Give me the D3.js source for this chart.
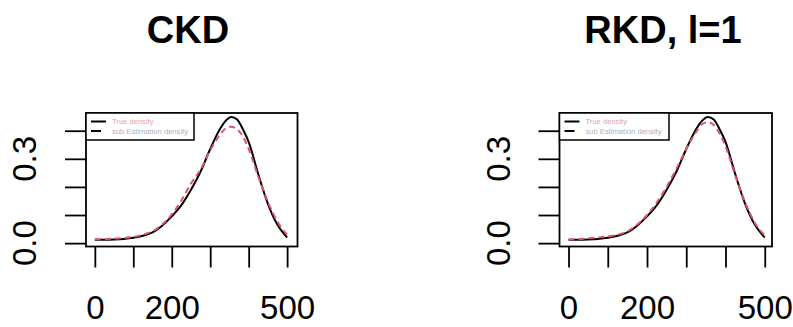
<!DOCTYPE html>
<html>
<head>
<meta charset="utf-8">
<script src="https://cdn.jsdelivr.net/npm/d3@7"></script>
<style>
  body { margin: 0; background: #fff; }
  svg { display: block; font-family: "Liberation Sans", Arial, sans-serif; }
</style>
</head>
<body>
<div id="chart-area"></div>
<script>
// Grid of x values the densities were read at
const xGrid = [0, 25, 50, 75, 100, 125, 150, 175, 200, 225, 250, 275, 300, 325, 340, 355, 370, 385, 400, 425, 450, 475, 500];

// True density (same in both panels)
const trueDensity = [0.012, 0.012, 0.013, 0.015, 0.019, 0.026, 0.038, 0.062, 0.095, 0.135, 0.19, 0.255, 0.335, 0.405, 0.435, 0.449, 0.44, 0.405, 0.36, 0.245, 0.14, 0.065, 0.02];

// Estimated densities
const ckdEstimate = [0.014, 0.014, 0.016, 0.018, 0.022, 0.03, 0.042, 0.066, 0.102, 0.152, 0.212, 0.262, 0.33, 0.385, 0.408, 0.414, 0.405, 0.38, 0.335, 0.237, 0.147, 0.076, 0.03];
const rkdEstimate = [0.013, 0.014, 0.017, 0.02, 0.024, 0.03, 0.042, 0.066, 0.1, 0.145, 0.2, 0.265, 0.335, 0.395, 0.423, 0.43, 0.42, 0.39, 0.345, 0.24, 0.145, 0.072, 0.028];

// Tick values / labels
const xTicks = [0, 100, 200, 300, 400, 500];
const xLabels = [0, 200, 500];
const yTicks = [0, 0.1, 0.2, 0.3, 0.4];
const yLabels = [0, 0.3];

const panelTitles = ["CKD", "RKD, l=1"];
const legendLabels = ["True density", "sub Estimation density"];

const width = 793;
const height = 327;

const svg = d3.select("#chart-area")
  .append("svg")
  .attr("width", width)
  .attr("height", height);

const panels = [
  { title: panelTitles[0], titleX: 188, left: 86, right: 297.5, xDomain: [-23, 527], est: ckdEstimate, legendRight: 194 },
  { title: panelTitles[1], titleX: 663, left: 559.5, right: 772, xDomain: [-23, 518.5], est: rkdEstimate, legendRight: 669 }
];
const plotTop = 113;
const plotBottom = 246.5;
const yDomain = [-0.012, 0.463];

function drawPanel(p) {
  const g = svg.append("g");

  const x = d3.scaleLinear().domain(p.xDomain).range([p.left, p.right]);
  const y = d3.scaleLinear().domain(yDomain).range([plotBottom, plotTop]);

  // title
  g.append("text")
    .attr("x", p.titleX)
    .attr("y", 43)
    .attr("text-anchor", "middle")
    .attr("font-size", 38)
    .attr("font-weight", "bold")
    .text(p.title);

  // x axis ticks
  const xAxis = d3.axisBottom(x)
    .tickValues(xTicks)
    .tickSize(21)
    .tickSizeOuter(0)
    .tickPadding(28)
    .tickFormat(d => xLabels.includes(d) ? d : "");
  const xg = g.append("g")
    .attr("transform", `translate(0,${plotBottom})`)
    .call(xAxis);
  xg.select(".domain").remove();
  xg.selectAll(".tick line").attr("stroke", "#000").attr("stroke-width", 1.8);
  xg.selectAll(".tick text")
    .attr("font-size", 33)
    .attr("font-family", "Liberation Sans, Arial, sans-serif")
    .attr("fill", "#000");

  // y axis ticks
  const yAxis = d3.axisLeft(y)
    .tickValues(yTicks)
    .tickSize(21)
    .tickSizeOuter(0)
    .tickFormat("");
  const yg = g.append("g")
    .attr("transform", `translate(${p.left},0)`)
    .call(yAxis);
  yg.select(".domain").remove();
  yg.selectAll(".tick line").attr("stroke", "#000").attr("stroke-width", 1.8);

  // rotated y labels
  g.selectAll(".ylab")
    .data(yLabels)
    .join("text")
    .attr("class", "ylab")
    .attr("transform", d => `translate(${p.left - 50},${y(d)}) rotate(-90)`)
    .attr("text-anchor", "middle")
    .attr("font-size", 33)
    .text(d => d3.format(".1f")(d));

  // curves
  const line = d3.line()
    .x(d => x(d[0]))
    .y(d => y(d[1]))
    .curve(d3.curveMonotoneX);

  g.append("path")
    .datum(d3.zip(xGrid, trueDensity))
    .attr("d", line)
    .attr("fill", "none")
    .attr("stroke", "#000")
    .attr("stroke-width", 2);

  g.append("path")
    .datum(d3.zip(xGrid, p.est))
    .attr("d", line)
    .attr("fill", "none")
    .attr("stroke", "#DF536B")
    .attr("stroke-width", 2)
    .attr("stroke-dasharray", "6,4");

  // plot box
  g.append("rect")
    .attr("x", p.left)
    .attr("y", plotTop)
    .attr("width", p.right - p.left)
    .attr("height", plotBottom - plotTop)
    .attr("fill", "none")
    .attr("stroke", "#000")
    .attr("stroke-width", 1.8);

  // legend
  const lg = g.append("g");
  lg.append("rect")
    .attr("x", p.left)
    .attr("y", plotTop)
    .attr("width", p.legendRight - p.left)
    .attr("height", 27)
    .attr("fill", "#fff")
    .attr("stroke", "#000")
    .attr("stroke-width", 1.5);
  lg.append("line")
    .attr("x1", p.left + 5).attr("x2", p.left + 20)
    .attr("y1", plotTop + 8.5).attr("y2", plotTop + 8.5)
    .attr("stroke", "#000").attr("stroke-width", 2);
  lg.append("line")
    .attr("x1", p.left + 5).attr("x2", p.left + 20)
    .attr("y1", plotTop + 18).attr("y2", plotTop + 18)
    .attr("stroke", "#000").attr("stroke-width", 2)
    .attr("stroke-dasharray", "10,6");
  lg.selectAll(".legtext")
    .data(legendLabels)
    .join("text")
    .attr("class", "legtext")
    .attr("x", p.left + 26)
    .attr("y", (d, i) => plotTop + 11 + i * 9.5)
    .attr("font-size", 7.6)
    .attr("fill", (d, i) => i === 0 ? "#e2a3ad" : "#aab2c4")
    .text(d => d);
}

panels.forEach(drawPanel);
</script>
</body>
</html>
